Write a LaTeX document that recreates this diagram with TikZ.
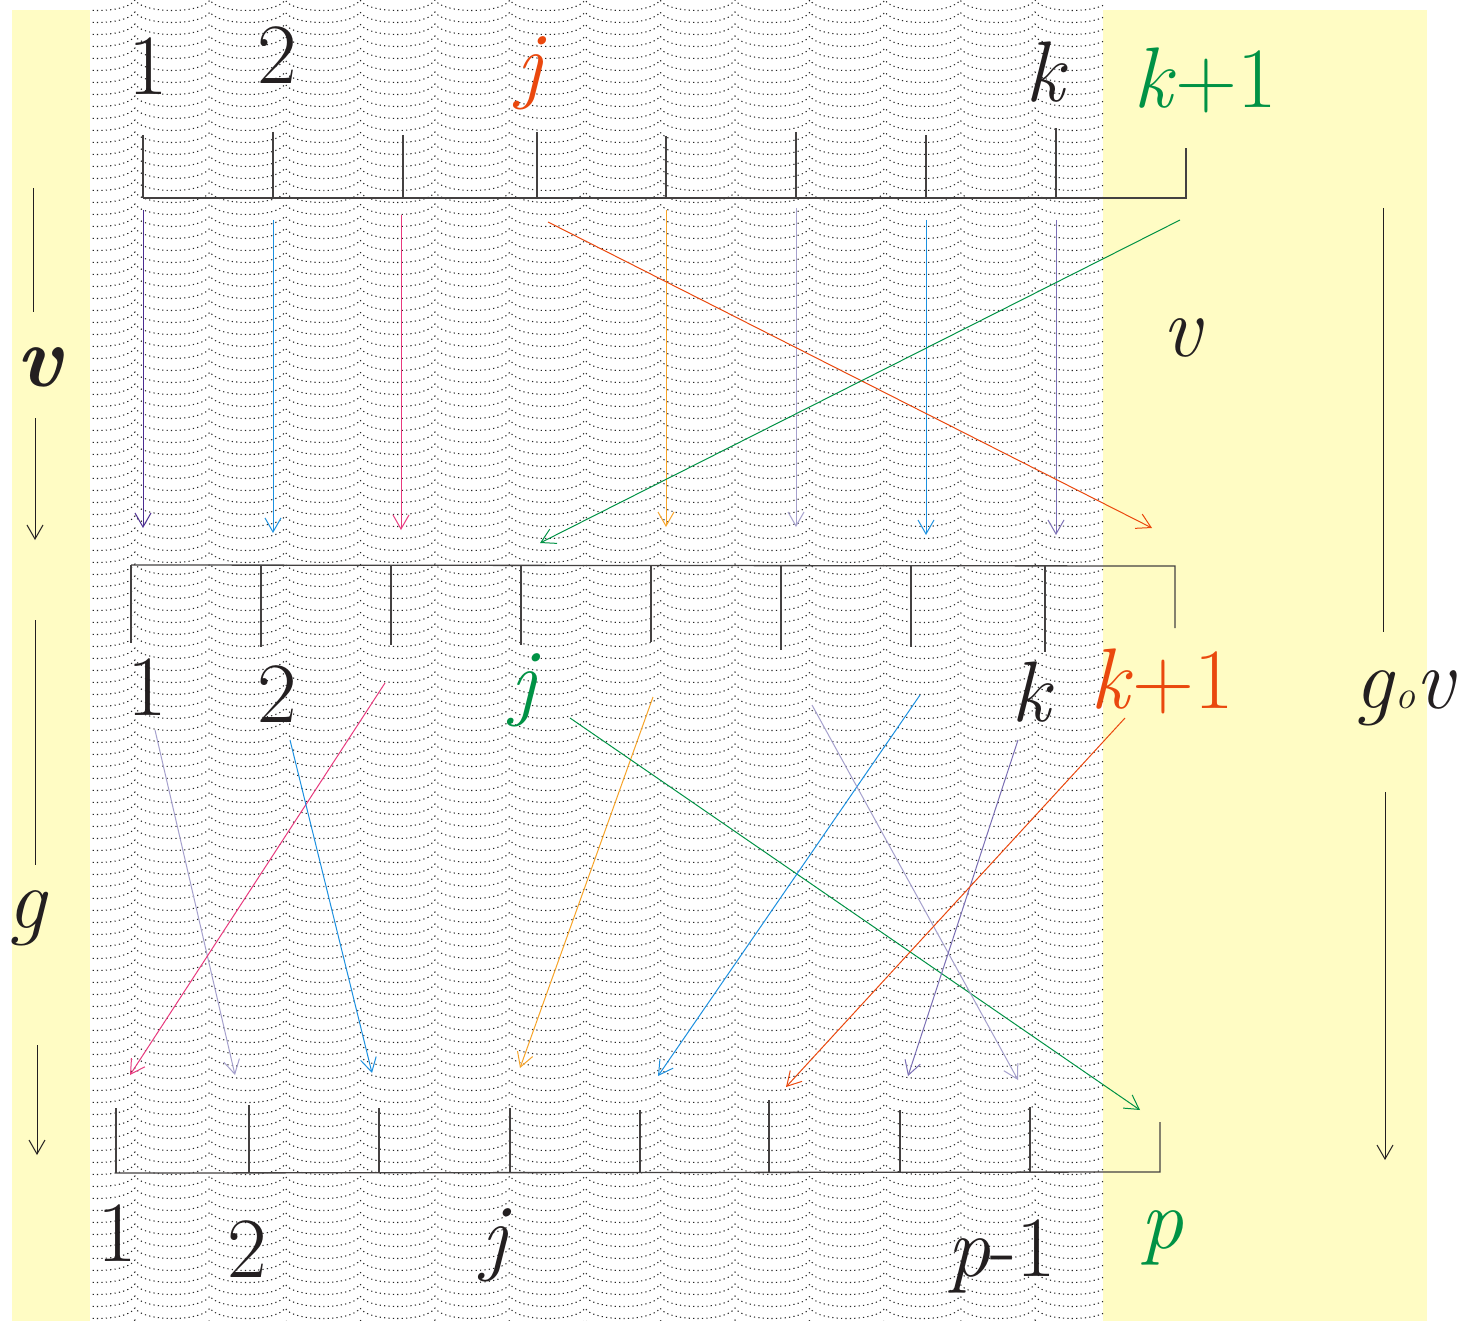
\documentclass[tikz,border=0pt]{standalone}
\usetikzlibrary{arrows.meta}
\definecolor{bgyellow}{RGB}{255,252,196}
\definecolor{ink}{RGB}{35,31,32}
\definecolor{redor}{RGB}{234,72,14}
\definecolor{grn}{RGB}{0,146,69}
\definecolor{dpurp}{RGB}{75,45,145}
\definecolor{skyb}{RGB}{28,144,224}
\definecolor{pinkc}{RGB}{232,58,126}
\definecolor{orng}{RGB}{247,164,40}
\definecolor{lavd}{RGB}{165,160,205}
\definecolor{purp}{RGB}{122,110,180}
\begin{document}
\begin{tikzpicture}[x=1pt,y=-1pt,
  lbl/.style={inner sep=0pt, font=\fontsize{86}{86}\selectfont, text=ink},
  bracket/.style={draw=ink!85, line width=1.3pt},
  arr/.style={line width=1pt, -{Straight Barb[length=14pt,width=16pt]}},
  sidearr/.style={draw=ink, line width=0.9pt},
  wave/.style={draw=black!85, line width=1.05pt, dash pattern=on 1.2pt off 3.2pt},
]
\useasboundingbox (0,0) rectangle (1458,1321);
\fill[bgyellow] (12,10) rectangle (1427,1321);
\fill[white] (90,0) rectangle (1103,1321);
\begin{scope}
\clip (90,0) rectangle (1103,1321);
\foreach \r in {0,...,110}{
  \draw[wave] (60,{\r*12}) foreach \i in {1,...,15} { .. controls +(8,14) and +(-8,14) .. ++(75,0) };
}
\end{scope}

% brackets
\draw[bracket] (143,198) -- (1186,198) -- (1186,148);
\foreach \x/\t in {143/135, 273/132, 403/135, 537/132, 666/136, 796/132, 926/135, 1056/128}
  \draw[bracket] (\x,\t) -- (\x,198);
\draw[bracket] (131,565) -- (1175,566) -- (1175,628);
\foreach \x/\b in {131/643, 261/647, 391/645, 521/645, 651/642, 781/650, 911/647, 1045/652}
  \draw[bracket] (\x,565) -- (\x,\b);
\draw[bracket] (116,1173) -- (1160,1172) -- (1160,1122);
\foreach \x/\t in {116/1108, 249/1105, 379/1108, 510/1108, 640/1110, 769/1100, 900/1110, 1030/1107}
  \draw[bracket] (\x,\t) -- (\x,1173);

% labels top
\node[lbl] (t1) at (148,66) {1};
\node[lbl] (t2) at (277,55) {2};
\node[lbl, text=redor] (tj) at (532,73) {\textit{j}};
\node[lbl] (tk) at (1047,72) {\textit{k}};
\node[lbl, text=grn] (tk1) at (1205,80) {\textit{k}+1};
% labels middle
\node[lbl] (m1) at (147,687) {1};
\node[lbl] (m2) at (277,694) {2};
\node[lbl, text=grn] (mj) at (526,690) {\textit{j}};
\node[lbl] (mk) at (1033,692) {\textit{k}};
\node[lbl, text=redor] (mk1) at (1162,681) {\textit{k}+1};
% labels bottom
\node[lbl] (b1) at (117,1233) {1};
\node[lbl] (b2) at (247,1249) {2};
\node[lbl] (bj) at (497,1245) {\textit{j}};
\node[lbl] (bp1) at (1002,1256) {\textit{p}-1};
\node[lbl, text=grn] (bp) at (1162,1238) {\textit{p}};
% side labels
\node[lbl] (rv) at (1183,338) {\textit{v}};
\node[lbl] (lv) at (40,367) {\textbf{\textit{v}}};
\node[lbl] (lg) at (28,918) {\textit{g}};
\node[lbl, anchor=base west] (gv) at (1354,708) {\textit{g}{\fontsize{40}{40}\selectfont\textit{o}}\textit{v}};

% arrows top -> middle
\coordinate (a1s) at (143,210);  \coordinate (a1e) at (143,528);
\coordinate (a2s) at (273,220);  \coordinate (a2e) at (273,533);
\coordinate (a3s) at (401,215);  \coordinate (a3e) at (401,530);
\coordinate (a4s) at (666,210);  \coordinate (a4e) at (666,527);
\coordinate (a5s) at (796,208);  \coordinate (a5e) at (796,527);
\coordinate (a6s) at (926,220);  \coordinate (a6e) at (926,535);
\coordinate (a7s) at (1056,220); \coordinate (a7e) at (1056,535);
\coordinate (a8s) at (548,222);  \coordinate (a8e) at (1152,528);
\coordinate (a9s) at (1180,220); \coordinate (a9e) at (540,543);
\draw[arr, dpurp] (a1s) -- (a1e);
\draw[arr, skyb] (a2s) -- (a2e);
\draw[arr, pinkc] (a3s) -- (a3e);
\draw[arr, orng] (a4s) -- (a4e);
\draw[arr, lavd] (a5s) -- (a5e);
\draw[arr, skyb] (a6s) -- (a6e);
\draw[arr, purp] (a7s) -- (a7e);
\draw[arr, redor] (a8s) -- (a8e);
\draw[arr, grn] (a9s) -- (a9e);

% arrows middle -> bottom
\coordinate (b1s) at (155,730);  \coordinate (b1e) at (235,1075);
\coordinate (b2s) at (385,683);  \coordinate (b2e) at (130,1075);
\coordinate (b3s) at (290,740);  \coordinate (b3e) at (372,1073);
\coordinate (b4s) at (653,697);  \coordinate (b4e) at (520,1068);
\coordinate (b5s) at (570,718);  \coordinate (b5e) at (1140,1110);
\coordinate (b6s) at (920,695);  \coordinate (b6e) at (658,1076);
\coordinate (b7s) at (812,705);  \coordinate (b7e) at (1018,1080);
\coordinate (b8s) at (1018,740); \coordinate (b8e) at (908,1076);
\coordinate (b9s) at (1125,718); \coordinate (b9e) at (786,1087);
\draw[arr, lavd] (b1s) -- (b1e);
\draw[arr, pinkc] (b2s) -- (b2e);
\draw[arr, skyb] (b3s) -- (b3e);
\draw[arr, orng] (b4s) -- (b4e);
\draw[arr, grn] (b5s) -- (b5e);
\draw[arr, skyb] (b6s) -- (b6e);
\draw[arr, lavd] (b7s) -- (b7e);
\draw[arr, purp] (b8s) -- (b8e);
\draw[arr, redor] (b9s) -- (b9e);

% side arrows
\coordinate (lv1) at (33,188);  \coordinate (lv2) at (33,312);
\coordinate (lv3) at (35,418);  \coordinate (lv4) at (35,540);
\coordinate (lg1) at (35,620);  \coordinate (lg2) at (35,865);
\coordinate (lg3) at (37,1045); \coordinate (lg4) at (37,1155);
\coordinate (rg1) at (1383,208); \coordinate (rg2) at (1383,632);
\coordinate (rg3) at (1385,792); \coordinate (rg4) at (1385,1160);
\draw[sidearr] (lv1) -- (lv2);
\draw[sidearr, arr] (lv3) -- (lv4);
\draw[sidearr] (lg1) -- (lg2);
\draw[sidearr, arr] (lg3) -- (lg4);
\draw[sidearr] (rg1) -- (rg2);
\draw[sidearr, arr] (rg3) -- (rg4);
\end{tikzpicture}
\end{document}
